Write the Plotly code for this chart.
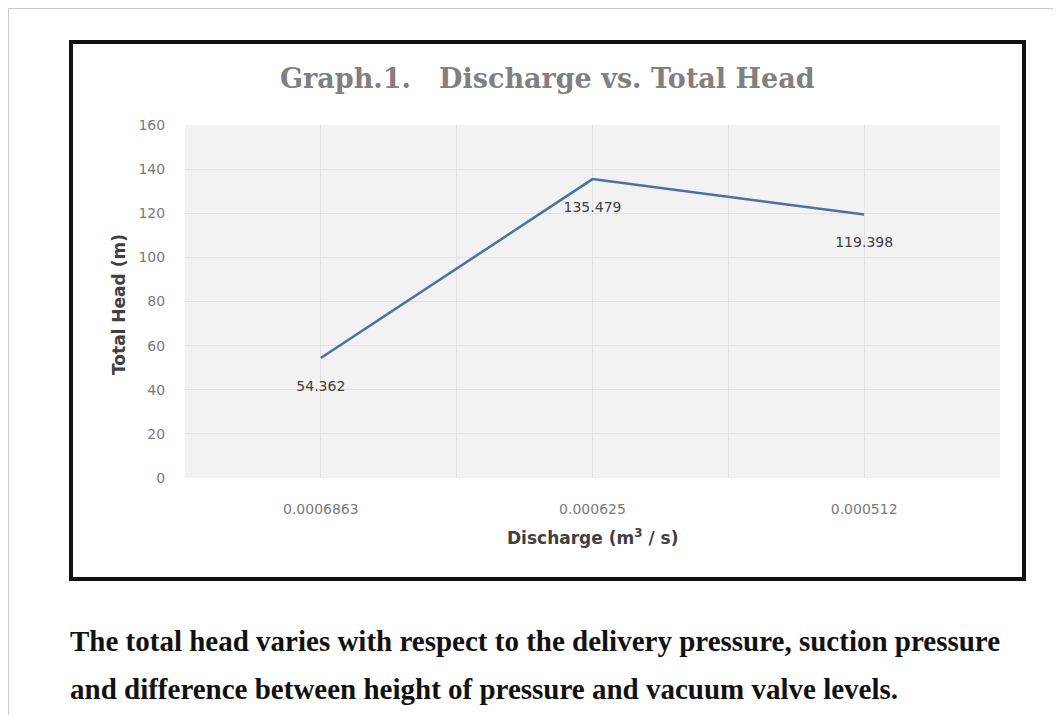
import plotly.graph_objects as go

discharge = ["0.0006863", "0.000625", "0.000512"]
total_head = [54.362, 135.479, 119.398]
y_ticks = [0, 20, 40, 60, 80, 100, 120, 140, 160]

# the page body has an 8px margin, so the figure is drawn 8px in from the corner
OFF = 8
W, H = 1061 - OFF, 715 - OFF
L, R, T, B = 185, 1000, 125, 478   # plot area in screen pixels


def px(x):
    return (x - L) / (R - L)


def py(y):
    return (B - y) / (B - T)


xs = list(range(len(discharge)))

fig = go.Figure()
fig.add_trace(go.Scatter(
    x=xs,
    y=total_head,
    mode="lines+markers+text",
    line=dict(color="#4c6fa6", width=2.5),
    marker=dict(size=34, color="rgba(0,0,0,0)"),
    text=[str(v) for v in total_head],
    textposition="bottom center",
    textfont=dict(family="DejaVu Sans", size=14, color="#404040"),
    cliponaxis=False,
    showlegend=False,
    hoverinfo="skip",
))

grid = "#e2e2e2"
fig.update_xaxes(
    range=[-0.5, 2.5],
    tickvals=xs,
    ticktext=discharge,
    showgrid=True,
    gridcolor=grid,
    gridwidth=1,
    minor=dict(tick0=-0.5, dtick=1, showgrid=True, gridcolor=grid),
    zeroline=False,
    showline=False,
    ticks="outside",
    ticklen=18,
    tickcolor="rgba(0,0,0,0)",
    tickfont=dict(family="DejaVu Sans", size=14, color="#7a7a7a"),
)
fig.update_yaxes(
    range=[0, 160],
    tickvals=y_ticks,
    showgrid=True,
    gridcolor=grid,
    zeroline=False,
    ticks="outside",
    ticklen=16,
    tickcolor="rgba(0,0,0,0)",
    tickfont=dict(family="DejaVu Sans", size=14, color="#7a7a7a"),
)

shapes = [
    # outer light frame
    dict(type="rect", xref="paper", yref="paper",
         x0=px(8.5), x1=px(1056), y0=py(8.5), y1=py(730),
         line=dict(color="#c8c8c8", width=1)),
    # black chart frame
    dict(type="rect", xref="paper", yref="paper",
         x0=px(71), x1=px(1024), y0=py(42), y1=py(579),
         line=dict(color="#111111", width=4)),
]

annotations = [
    dict(text="<b>Graph.1.&nbsp;&nbsp; Discharge vs. Total Head</b>",
         x=px(547), y=py(78), xref="paper", yref="paper",
         showarrow=False, xanchor="center", yanchor="middle",
         font=dict(family="DejaVu Serif", size=27, color="#808080")),
    dict(text="<b>Total Head (m)</b>",
         x=px(119), y=py(305), xref="paper", yref="paper",
         showarrow=False, textangle=-90, xanchor="center", yanchor="middle",
         font=dict(family="DejaVu Sans", size=17, color="#404040")),
    dict(text="<b>Discharge (m<sup>3</sup> / s)</b>",
         x=px(592), y=py(537), xref="paper", yref="paper",
         showarrow=False, xanchor="center", yanchor="middle",
         font=dict(family="DejaVu Sans", size=17, color="#404040")),
    dict(text="<b>The total head varies with respect to the delivery pressure, suction pressure</b>",
         x=px(68), y=py(641), xref="paper", yref="paper",
         showarrow=False, xanchor="left", yanchor="middle",
         font=dict(family="Liberation Serif", size=29, color="#111111")),
    dict(text="<b>and difference between height of pressure and vacuum valve levels.</b>",
         x=px(68), y=py(689), xref="paper", yref="paper",
         showarrow=False, xanchor="left", yanchor="middle",
         font=dict(family="Liberation Serif", size=29, color="#111111")),
]

fig.update_layout(
    width=W,
    height=H,
    margin=dict(l=L - OFF, r=1061 - R, t=T - OFF, b=715 - B),
    paper_bgcolor="white",
    plot_bgcolor="#f2f2f2",
    shapes=shapes,
    annotations=annotations,
)

fig.write_html("out.html")
